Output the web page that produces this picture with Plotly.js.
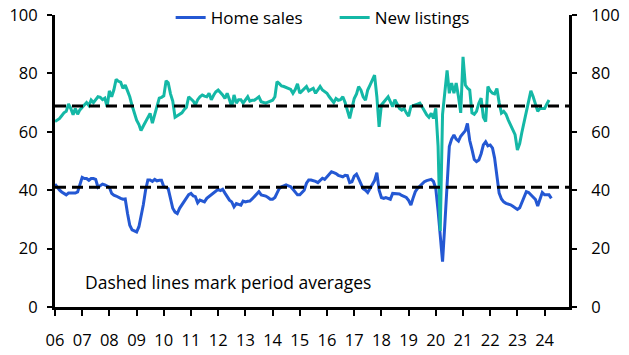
<!DOCTYPE html>
<html>
<head>
<meta charset="utf-8">
<script src="https://cdn.plot.ly/plotly-3.0.1.min.js"></script>
<style>html,body{margin:0;padding:0;background:#fff;}#chart{width:629px;height:355px;}</style>
</head>
<body>
<div id="chart"></div>
<script>
// Monthly data, Jan 2006 onwards
const startYear = 2006;
const homeSales = [
  42.1, 41, 40.1, 39.4, 39, 38.4, 39, 39, 39, 39, 39.4, 42,        // 2006
  44.4, 44, 44, 43.4, 44, 44, 43.7, 41, 41.5, 42.1, 41.8, 41.5,    // 2007
  41, 38.9, 38.3, 38, 37.5, 37.2, 36.9, 37, 32, 28, 26.4, 26,      // 2008
  25.7, 27.5, 31, 35, 40, 43.5, 43.5, 43, 43.7, 43.2, 43.4, 43.4,  // 2009
  41.2, 41, 40.5, 37, 33.8, 32.5, 32, 33.8, 35, 36.5, 37.8, 38.5,  // 2010
  38.9, 38, 37.8, 35.7, 36.6, 36.3, 36, 37.2, 37.8, 38.3, 38.9, 39.5, // 2011
  40.3, 39.9, 40.3, 39, 37.8, 36.6, 36, 34.3, 35.4, 35.2, 34.9, 36.3, // 2012
  36, 36.2, 36.3, 37, 37.8, 38.6, 39.5, 38.4, 38.2, 38, 37.5, 36.9,   // 2013
  36.9, 37.5, 39, 40.6, 41.2, 41.5, 41.8, 41.5, 41.2, 40.3, 39.5, 38.4, // 2014
  38.4, 39.2, 40, 42.4, 43.5, 43.5, 43.3, 43, 42.6, 43.5, 44.1, 43.7,   // 2015
  44.6, 45.5, 46.3, 46, 45.7, 45.1, 44.8, 44.6, 45.1, 45, 42.6, 42.9,   // 2016
  44.8, 45.5, 44, 42.4, 40.5, 40, 39.2, 40.6, 42, 43.3, 46, 40,         // 2017
  37.5, 37.2, 37.5, 37.3, 36.9, 38.9, 38.9, 38.9, 38.7, 38.2, 37.8, 37.5, // 2018
  36.5, 34.9, 37.2, 39.5, 40.6, 41.5, 42.1, 42.9, 43.3, 43.5, 43.7, 43,   // 2019
  40.6, 33, 24, 15.5, 28, 42, 55, 57.5, 58.9, 57.5, 56.8, 58.5,           // 2020
  59.5, 60.4, 62.9, 57, 54, 50.5, 49.8, 50.3, 52.5, 55.5, 56.6, 55.2,     // 2021
  55.5, 54.4, 51, 45, 39, 37, 36, 35.5, 35.3, 35, 34.5, 34,               // 2022
  33.4, 34, 35.6, 37.5, 39.5, 39.2, 38.5, 37.5, 36.8, 34.6, 36.6, 39.2,   // 2023
  38.4, 38.4, 38.4, 37.2                                                  // 2024
];
const newListings = [
  63.5, 64, 64.5, 65.5, 66.5, 67, 69.5, 68, 65.8, 68, 66, 67.5,      // 2006
  68.5, 69.5, 70, 69, 70.9, 70, 71, 72, 71.8, 71, 71.5, 68.6,        // 2007
  74, 72, 74.3, 78, 77.3, 77, 74.9, 76, 74, 72, 69, 66.3,            // 2008
  64, 62.5, 60.4, 62, 63.5, 65, 66.3, 63, 66, 68.7, 71.5, 71.8,      // 2009
  72.3, 77.5, 76.8, 73, 70.5, 65, 65.5, 65.8, 66.5, 67.6, 68.4, 72,  // 2010
  71.4, 70.5, 69.2, 71, 72, 72.6, 72.2, 72, 73.2, 71, 72.5, 73.7,    // 2011
  74.3, 73.5, 72.6, 71.4, 73.2, 71, 68.6, 72.6, 69.8, 71, 71, 69.8,  // 2012
  71, 72, 70.5, 70.8, 70.8, 71.5, 72, 70.3, 70, 69.8, 70.2, 70.5,    // 2013
  70.8, 72, 77.2, 76.5, 75.7, 75.5, 75.2, 74.9, 74.5, 73.2, 74.5, 76.4, // 2014
  73.2, 74, 74.9, 75.5, 74, 74.5, 74.9, 73.2, 74.5, 75.5, 74.3, 73.8,   // 2015
  73.2, 72, 71, 70, 71.4, 70.8, 71, 72, 70, 67.5, 64.6, 68,             // 2016
  71.4, 73, 75.5, 74.3, 72, 70.8, 74.3, 76, 77.5, 79.4, 72, 61.7,       // 2017
  69.2, 70.3, 71, 72, 70.3, 68.6, 71, 69.2, 68, 67.4, 68, 66.5,         // 2018
  65.4, 68.6, 69, 69.2, 69.5, 69.8, 68.6, 67, 65.8, 65, 66.3, 64.6,     // 2019
  68, 55, 26, 66, 74, 81, 73.2, 76.7, 73.2, 76.7, 72, 66.5,             // 2020
  85.7, 76, 75, 74.3, 66.5, 66, 67, 69.8, 71.5, 65, 63.5, 75.5,         // 2021
  74, 73.2, 73, 74.8, 70, 66.4, 67, 66, 64, 62.3, 61, 59,               // 2022
  53.8, 56, 59.7, 63.5, 67, 70.9, 74, 72, 69.8, 67, 68, 68,             // 2023
  68, 69.5, 70.9                                                         // 2024
];
const avgHomeSales = 41;
const avgNewListings = 68.8;
const yearTicks = ['06','07','08','09','10','11','12','13','14','15','16','17','18','19','20','21','22','23','24'];
const yTicks = [0, 20, 40, 60, 80, 100];

function monthDates(n) {
  const out = [];
  for (let i = 0; i < n; i++) {
    const y = startYear + Math.floor(i / 12);
    const m = (i % 12) + 1;
    out.push(y + '-' + (m < 10 ? '0' + m : m) + '-01');
  }
  return out;
}
const tickVals = yearTicks.map(t => '20' + t + '-01-01');

const BLUE = '#2458D3';
const TEAL = '#14B8A6';
const FONT = 'Open Sans, sans-serif';
const TXT = '#000';

const traces = [
  {x: monthDates(homeSales.length), y: homeSales, type: 'scatter', mode: 'lines', name: 'Home sales',
   line: {color: BLUE, width: 3}},
  {x: monthDates(newListings.length), y: newListings, type: 'scatter', mode: 'lines', name: 'New listings',
   line: {color: TEAL, width: 3}},
  {x: [], y: [], yaxis: 'y2', showlegend: false, hoverinfo: 'skip'}
];

const dashLine = (v) => ({type: 'line', xref: 'paper', x0: 0, x1: 1, yref: 'y', y0: v, y1: v,
  line: {color: '#000', width: 3, dash: '11px,6px'}, layer: 'above'});

const axisY = (extra) => Object.assign({range: [0, 100], tickvals: yTicks, showgrid: false, zeroline: false,
  showline: true, linecolor: '#000', linewidth: 3, ticks: 'outside', ticklen: 5, tickwidth: 2,
  tickcolor: '#000', tickfont: {size: 16.5, family: FONT, color: TXT}}, extra);

const layout = {
  width: 629, height: 355,
  margin: {l: 55, r: 60, t: 15, b: 48, autoexpand: false},
  paper_bgcolor: '#fff', plot_bgcolor: '#fff',
  font: {family: FONT, size: 16, color: TXT},
  showlegend: true,
  legend: {orientation: 'h', x: 0.225, xanchor: 'left', y: 0.99, yanchor: 'middle',
           bgcolor: 'rgba(0,0,0,0)', font: {size: 17, family: FONT, color: TXT},
           itemwidth: 30, entrywidth: 119, entrywidthmode: 'pixels'},
  xaxis: {type: 'date', range: ['2006-01-01', '2024-11-24'], tickvals: tickVals, ticktext: yearTicks,
          showgrid: false, zeroline: false, showline: true, linecolor: '#000', linewidth: 3,
          ticks: 'outside', ticklen: 6, tickwidth: 2, tickcolor: '#000', tickangle: 0,
          ticklabelstandoff: 10, tickfont: {size: 16.5, family: FONT, color: TXT}},
  yaxis: axisY({ticklabelstandoff: 6}),
  yaxis2: axisY({overlaying: 'y', side: 'right', ticklabelstandoff: 11}),
  shapes: [dashLine(avgNewListings), dashLine(avgHomeSales)],
  annotations: [{text: 'Dashed lines mark period averages', xref: 'paper', x: 0.055, xanchor: 'left',
                 yref: 'y', y: 8.6, yanchor: 'middle', showarrow: false,
                 font: {size: 17.5, family: FONT, color: TXT}}]
};

Plotly.newPlot('chart', traces, layout, {staticPlot: true, displayModeBar: false});
</script>
</body>
</html>
